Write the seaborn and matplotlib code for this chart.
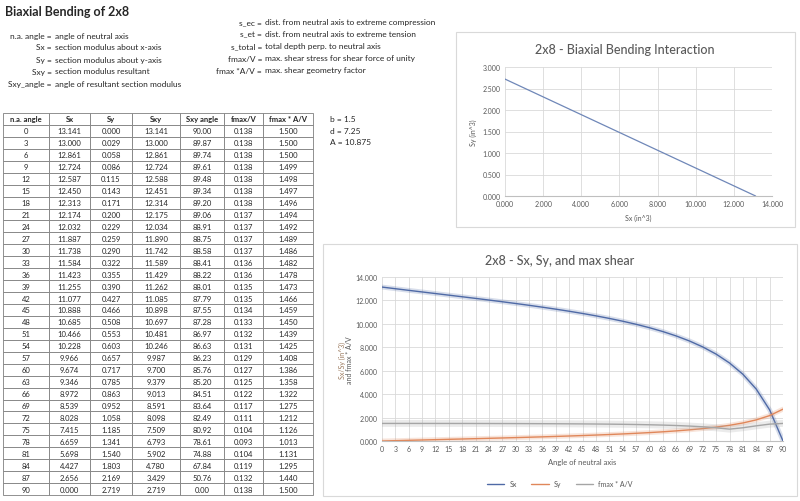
import numpy as np
import pandas as pd
import seaborn as sns
import matplotlib.pyplot as plt
from matplotlib.patches import Rectangle

# table values
angle = [0, 3, 6, 9, 12, 15, 18, 21, 24, 27, 30, 33, 36, 39, 42, 45,
         48, 51, 54, 57, 60, 63, 66, 69, 72, 75, 78, 81, 84, 87, 90]
sx = [13.141, 13.000, 12.861, 12.724, 12.587, 12.450, 12.313, 12.174, 12.032, 11.887,
      11.738, 11.584, 11.423, 11.255, 11.077, 10.888, 10.685, 10.466, 10.228, 9.966,
      9.674, 9.346, 8.972, 8.539, 8.028, 7.415, 6.659, 5.698, 4.427, 2.656, 0.000]
sy = [0.000, 0.029, 0.058, 0.086, 0.115, 0.143, 0.171, 0.200, 0.229, 0.259,
      0.290, 0.322, 0.355, 0.390, 0.427, 0.466, 0.508, 0.553, 0.603, 0.657,
      0.717, 0.785, 0.863, 0.952, 1.058, 1.185, 1.341, 1.540, 1.803, 2.169, 2.719]
sxy = [13.141, 13.000, 12.861, 12.724, 12.588, 12.451, 12.314, 12.175, 12.034, 11.890,
       11.742, 11.589, 11.429, 11.262, 11.085, 10.898, 10.697, 10.481, 10.246, 9.987,
       9.700, 9.379, 9.013, 8.591, 8.098, 7.509, 6.793, 5.902, 4.780, 3.429, 2.719]
sxy_angle = [90.00, 89.87, 89.74, 89.61, 89.48, 89.34, 89.20, 89.06, 88.91, 88.75,
             88.58, 88.41, 88.22, 88.01, 87.79, 87.55, 87.28, 86.97, 86.63, 86.23,
             85.76, 85.20, 84.51, 83.64, 82.49, 80.92, 78.61, 74.88, 67.84, 50.76, 0.00]
fmax_v = [0.138, 0.138, 0.138, 0.138, 0.138, 0.138, 0.138, 0.137, 0.137, 0.137,
          0.137, 0.136, 0.136, 0.135, 0.135, 0.134, 0.133, 0.132, 0.131, 0.129,
          0.127, 0.125, 0.122, 0.117, 0.111, 0.104, 0.093, 0.104, 0.119, 0.132, 0.138]
fmax_av = [1.500, 1.500, 1.500, 1.499, 1.498, 1.497, 1.496, 1.494, 1.492, 1.489,
           1.486, 1.482, 1.478, 1.473, 1.466, 1.459, 1.450, 1.439, 1.425, 1.408,
           1.386, 1.358, 1.322, 1.275, 1.212, 1.126, 1.013, 1.131, 1.295, 1.440, 1.500]

# interaction line end points
inter_sx = [0.0, 13.141]
inter_sy = [2.719, 0.0]

col_labels = ["n.a. angle", "Sx", "Sy", "Sxy", "Sxy angle", "fmax/V", "fmax * A/V"]

defs_left = [("n.a. angle", "angle of neutral axis"),
             ("Sx", "section modulus about x-axis"),
             ("Sy", "section modulus about y-axis"),
             ("Sxy", "section modulus resultant"),
             ("Sxy_angle", "angle of resultant section modulus")]
defs_right = [("s_ec", "dist. from neutral axis to extreme compression"),
              ("s_et", "dist. from neutral axis to extreme tension"),
              ("s_total", "total depth perp. to neutral axis"),
              ("fmax/V", "max. shear stress for shear force of unity"),
              ("fmax *A/V", "max. shear geometry factor")]
props = ["b = 1.5", "d = 7.25", "A = 10.875"]

sns.set_style("white")
plt.rcParams['font.family'] = ['Lato', 'DejaVu Sans']

W, H = 800, 502
fig = plt.figure(figsize=(8, 5.02), dpi=100)


def fx(x):
    return x / W


def fy(y):
    return 1 - y / H


def box(x0, y0, x1, y1):
    return [fx(x0), fy(y1), fx(x1) - fx(x0), fy(y0) - fy(y1)]


txt = '#262626'
gray = '#595959'

# header text
fig.text(fx(5), fy(12), "Biaxial Bending of 2x8", fontsize=9, fontweight='bold',
         color=txt, va='center', ha='left')
for i, (k, v) in enumerate(defs_left):
    y = 36 + i * 12
    fig.text(fx(52), fy(y), k + " =", fontsize=6, ha='right', va='center', color=txt)
    fig.text(fx(55), fy(y), v, fontsize=6, ha='left', va='center', color=txt)
for i, (k, v) in enumerate(defs_right):
    y = 23 + i * 12
    fig.text(fx(262), fy(y), k + " =", fontsize=6, ha='right', va='center', color=txt)
    fig.text(fx(265), fy(y), v, fontsize=6, ha='left', va='center', color=txt)
for i, p in enumerate(props):
    fig.text(fx(330), fy(119 + i * 12), p, fontsize=6, ha='left', va='center', color=txt)

# data table
df = pd.DataFrame({
    "n.a. angle": [f"{a:d}" for a in angle],
    "Sx": [f"{v:.3f}" for v in sx],
    "Sy": [f"{v:.3f}" for v in sy],
    "Sxy": [f"{v:.3f}" for v in sxy],
    "Sxy angle": [f"{v:.2f}" for v in sxy_angle],
    "fmax/V": [f"{v:.3f}" for v in fmax_v],
    "fmax * A/V": [f"{v:.3f}" for v in fmax_av],
})
edges = [3, 49, 90, 132, 180, 224, 263, 313]
widths = np.diff(edges) / (edges[-1] - edges[0])
tax = fig.add_axes(box(3, 114, 313, 496))
tax.axis('off')
tbl = tax.table(cellText=df.values, colLabels=col_labels, colWidths=widths,
                cellLoc='center', bbox=[0, 0, 1, 1])
tbl.auto_set_font_size(False)
for (r, c), cell in tbl.get_celld().items():
    cell.set_edgecolor('#7f7f7f')
    cell.set_linewidth(0.6)
    cell.get_text().set_fontsize(5.5)
    cell.get_text().set_color(txt)
    if r == 0:
        cell.get_text().set_fontweight('bold')

# chart frames (behind the axes)
for x0, y0, x1, y1 in [(456, 33, 795, 228), (323, 245, 797, 497)]:
    fig.patches.append(Rectangle((fx(x0), fy(y1)), fx(x1) - fx(x0), fy(y0) - fy(y1),
                                 transform=fig.transFigure, facecolor='none',
                                 edgecolor='#d9d9d9', linewidth=0.8, zorder=-5))

grid_c = '#d9d9d9'

# top chart: interaction
ax1 = fig.add_axes(box(505, 68, 772, 197))
sns.lineplot(x=inter_sx, y=inter_sy, ax=ax1, color='#6f87b8', linewidth=0.9)
ax1.set_xlim(0, 14)
ax1.set_ylim(0, 3)
ax1.set_xticks(np.arange(0, 14.1, 2))
ax1.set_yticks(np.arange(0, 3.01, 0.5))
ax1.set_xticklabels([f"{v:.3f}" for v in np.arange(0, 14.1, 2)])
ax1.set_yticklabels([f"{v:.3f}" for v in np.arange(0, 3.01, 0.5)])
ax1.grid(True, color=grid_c, linewidth=0.6)
ax1.tick_params(length=0, labelsize=5, colors=gray, pad=3)
for s in ax1.spines.values():
    s.set_visible(False)
ax1.spines['bottom'].set_visible(True)
ax1.spines['bottom'].set_color('#bfbfbf')
ax1.set_xlabel("Sx (in^3)", fontsize=5, color=gray, labelpad=5)
ax1.set_ylabel("Sy (in^3)", fontsize=5, color=gray, labelpad=4)
fig.text(fx(625), fy(50), "2x8 - Biaxial Bending Interaction", fontsize=9, color=gray,
         fontweight='medium', ha='center', va='center')

# bottom chart: Sx, Sy, max shear
ax2 = fig.add_axes(box(382, 278, 783, 442))
series = [("Sx", sx, '#4f6aa6'), ("Sy", sy, '#e0875a'), ("fmax * A/V", fmax_av, '#a5a5a5')]
for name, vals, col in series:
    glow = 5 if name == "fmax * A/V" else 3.5
    sns.lineplot(x=angle, y=vals, ax=ax2, color=col, linewidth=glow, alpha=0.22)
    sns.lineplot(x=angle, y=vals, ax=ax2, color=col, linewidth=1.0, label=name)
ax2.set_xlim(0, 90)
ax2.set_ylim(0, 14)
ax2.set_xticks(angle)
ax2.set_yticks(np.arange(0, 14.1, 2))
ax2.set_yticklabels([f"{v:.3f}" for v in np.arange(0, 14.1, 2)])
ax2.grid(True, color=grid_c, linewidth=0.6)
ax2.tick_params(length=0, labelsize=5, colors=gray, pad=3)
for s in ax2.spines.values():
    s.set_visible(False)
ax2.spines['bottom'].set_visible(True)
ax2.spines['bottom'].set_color('#bfbfbf')
ax2.set_xlabel("Angle of neutral axis", fontsize=5.5, color=gray, labelpad=4)
ax2.set_ylabel("")
fig.text(fx(342), fy(360), "Sx/Sy (in^3)", rotation=90, fontsize=5, color='#9c7a5e',
         ha='center', va='center')
fig.text(fx(350), fy(360), "and fmax * A/V", rotation=90, fontsize=5, color=gray,
         ha='center', va='center')
fig.text(fx(560), fy(261), "2x8 - Sx, Sy, and max shear", fontsize=9, color=gray,
         fontweight='medium', ha='center', va='center')
ax2.legend(loc='center', bbox_to_anchor=(fx(560), fy(485)), bbox_transform=fig.transFigure,
           ncol=3, frameon=False, fontsize=5, labelcolor=gray, handlelength=2.5,
           columnspacing=2.0)

fig.savefig("out.png", dpi=100)
